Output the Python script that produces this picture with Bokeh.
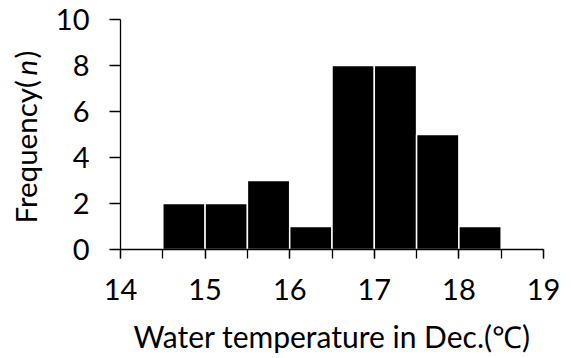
import math
from bokeh.plotting import figure
from bokeh.layouts import row
from bokeh.models import FixedTicker, Label, Range1d
from bokeh.embed import file_html
from bokeh.resources import INLINE

# Data: histogram bins (°C) and counts
bin_edges = [14.5, 15.0, 15.5, 16.0, 16.5, 17.0, 17.5, 18.0, 18.5]
counts = [2, 2, 3, 1, 8, 8, 5, 1]
x_ticks = [14, 15, 16, 17, 18, 19]
x_minor_ticks = [14, 14.5, 15, 15.5, 16, 16.5, 17, 17.5, 18, 18.5, 19]
y_ticks = [0, 2, 4, 6, 8, 10]
x_title = "Water temperature in Dec.(℃)"
y_title_parts = ["Frequency(", "n", ")"]

FONT = "Lato"
LEFT_W = 50
H = 358

# Main histogram figure
p = figure(width=571 - LEFT_W, height=H, output_backend="svg", toolbar_location=None,
           x_range=Range1d(14, 19), y_range=Range1d(0, 10),
           min_border_left=120 - LEFT_W, min_border_right=28, min_border_top=19, min_border_bottom=109)
p.frame_width = 423
p.frame_height = 230
p.outline_line_color = None
p.xgrid.grid_line_color = None
p.ygrid.grid_line_color = None
p.background_fill_color = "white"
p.border_fill_color = "white"

p.quad(left=bin_edges[:-1], right=bin_edges[1:], top=counts, bottom=0,
       fill_color="black", line_color="white", line_width=1.5)

xa = p.xaxis[0]
xa.ticker = FixedTicker(ticks=x_ticks, minor_ticks=x_minor_ticks)
xa.major_tick_in = 0
xa.major_tick_out = 9
xa.minor_tick_in = 0
xa.minor_tick_out = 9
xa.axis_line_width = 1.3
xa.major_tick_line_width = 1.3
xa.minor_tick_line_width = 1.3
xa.major_label_text_font = FONT
xa.major_label_text_font_size = "29px"
xa.major_label_text_color = "black"
xa.major_label_standoff = 20
xa.axis_label = x_title
xa.axis_label_text_font = FONT
xa.axis_label_text_font_size = "30px"
xa.axis_label_text_font_style = "normal"
xa.axis_label_text_color = "black"
xa.axis_label_standoff = 15

ya = p.yaxis[0]
ya.ticker = FixedTicker(ticks=y_ticks)
ya.minor_tick_line_color = None
ya.major_tick_in = 0
ya.major_tick_out = 11
ya.axis_line_width = 1.3
ya.major_tick_line_width = 1.3
ya.major_label_text_font = FONT
ya.major_label_text_font_size = "29px"
ya.major_label_text_color = "black"
ya.major_label_standoff = 20

# Narrow panel (no axes) holding the rotated y-axis title with italic n.
# Its frame is aligned with the main frame (bottom at the x-axis line).
lp = figure(width=LEFT_W, height=H, output_backend="svg", toolbar_location=None,
            x_range=Range1d(0, LEFT_W), y_range=Range1d(0, H),
            x_axis_location=None, y_axis_location=None,
            min_border=0, min_border_left=0, min_border_right=0,
            min_border_top=0, min_border_bottom=0)
lp.xgrid.grid_line_color = None
lp.ygrid.grid_line_color = None
lp.outline_line_color = None
lp.background_fill_color = "white"
lp.border_fill_color = "white"

common = dict(x_units="screen", y_units="screen", angle=math.pi / 2,
              text_font=FONT, text_font_size="29.5px", text_color="black",
              text_baseline="alphabetic", text_align="left")
y0 = 26
lp.add_layout(Label(x=25, y=y0, text=y_title_parts[0], **common))
lp.add_layout(Label(x=25, y=y0 + 148, text=y_title_parts[1], text_font_style="italic", **common))
lp.add_layout(Label(x=25, y=y0 + 165, text=y_title_parts[2], **common))

layout = row(lp, p, spacing=0)
open("out.html", "w").write(file_html(layout, INLINE))
